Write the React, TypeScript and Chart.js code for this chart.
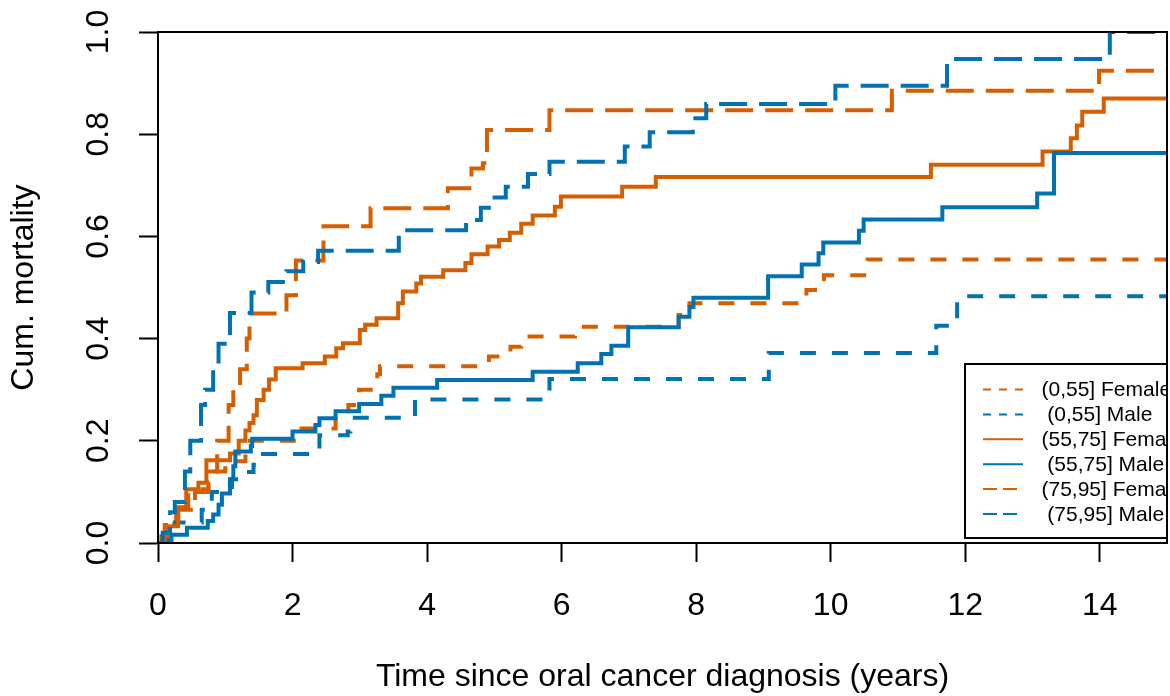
import React, { useEffect, useRef } from "react";
import { Chart, registerables } from "chart.js";

Chart.register(...registerables);

const FONT = "'Liberation Sans', Arial, Helvetica, sans-serif";

// ---- data (event times in years, cumulative mortality after the event) ----
const seriesLabels = [
  "(0,55] Female",
  " (0,55] Male",
  "(55,75] Female",
  " (55,75] Male",
  "(75,95] Female",
  " (75,95] Male",
];

const f055Times = [0.07, 0.18, 0.27, 0.45, 0.75, 0.85, 1.0, 1.3, 2.08, 2.64, 2.83, 2.99, 3.26, 3.3, 4.92, 5.24, 5.4, 6.2, 7.74, 7.9, 9.64, 9.9, 10.55];
const f055Cum = [0.012, 0.035, 0.07, 0.105, 0.12, 0.14, 0.16, 0.2, 0.224, 0.245, 0.27, 0.3, 0.33, 0.346, 0.365, 0.384, 0.404, 0.423, 0.446, 0.469, 0.495, 0.524, 0.555];

const m055Times = [0.15, 0.25, 0.65, 0.8, 1.1, 1.32, 1.42, 1.52, 2.4, 2.82, 2.86, 3.82, 5.82, 9.08, 11.57, 11.88];
const m055Cum = [0.02, 0.04, 0.065, 0.1, 0.125, 0.139, 0.153, 0.174, 0.211, 0.218, 0.245, 0.281, 0.321, 0.372, 0.425, 0.483];

const f5575Times = [0.05, 0.15, 0.3, 0.42, 0.6, 0.72, 1.07, 1.2, 1.3, 1.36, 1.42, 1.47, 1.57, 1.65, 1.75, 2.15, 2.48, 2.65, 2.75, 3.0, 3.08, 3.25, 3.57, 3.64, 3.84, 3.91, 4.24, 4.57, 4.66, 4.9, 5.07, 5.23, 5.4, 5.57, 5.9, 5.99, 6.9, 7.4, 11.49, 13.15, 13.57, 13.66, 13.74, 14.06];
const f5575Cum = [0.013, 0.033, 0.07, 0.105, 0.118, 0.162, 0.175, 0.2, 0.22, 0.235, 0.25, 0.28, 0.3, 0.32, 0.342, 0.352, 0.365, 0.381, 0.391, 0.417, 0.427, 0.44, 0.469, 0.492, 0.508, 0.521, 0.534, 0.548, 0.565, 0.58, 0.593, 0.607, 0.625, 0.641, 0.658, 0.678, 0.697, 0.716, 0.74, 0.766, 0.792, 0.817, 0.844, 0.87];

const m5575Times = [0.2, 0.43, 0.74, 0.82, 0.9, 0.95, 1.07, 1.12, 1.15, 1.38, 1.4, 2.0, 2.34, 2.4, 2.64, 2.99, 3.32, 3.5, 4.15, 5.57, 6.24, 6.59, 6.74, 6.99, 7.74, 7.9, 7.96, 9.07, 9.57, 9.82, 9.89, 10.42, 10.49, 11.66, 13.07, 13.32];
const m5575Cum = [0.016, 0.03, 0.043, 0.056, 0.075, 0.097, 0.125, 0.15, 0.179, 0.19, 0.204, 0.218, 0.231, 0.244, 0.258, 0.272, 0.288, 0.304, 0.319, 0.335, 0.352, 0.37, 0.386, 0.422, 0.443, 0.462, 0.48, 0.522, 0.545, 0.567, 0.588, 0.611, 0.633, 0.657, 0.684, 0.763];

const f7595Times = [0.1, 0.3, 0.55, 0.75, 0.88, 1.05, 1.12, 1.22, 1.32, 1.36, 1.91, 2.05, 2.46, 3.16, 4.31, 4.66, 4.83, 4.89, 5.82, 10.91, 13.99];
const f7595Cum = [0.035, 0.065, 0.1, 0.14, 0.2, 0.27, 0.3, 0.34, 0.4, 0.449, 0.485, 0.553, 0.62, 0.655, 0.694, 0.733, 0.743, 0.808, 0.847, 0.885, 0.924];

const m7595Times = [0.07, 0.18, 0.25, 0.4, 0.48, 0.64, 0.7, 0.82, 0.9, 1.07, 1.39, 1.64, 1.91, 2.16, 2.38, 3.58, 4.58, 4.8, 4.96, 5.17, 5.5, 5.82, 6.94, 7.31, 7.95, 8.15, 10.07, 11.73, 14.15];
const m7595Cum = [0.02, 0.06, 0.08, 0.14, 0.2, 0.27, 0.3, 0.35, 0.39, 0.45, 0.49, 0.511, 0.532, 0.55, 0.572, 0.612, 0.632, 0.656, 0.676, 0.697, 0.722, 0.746, 0.776, 0.804, 0.831, 0.859, 0.895, 0.947, 1.0];

const xTickValues = [0, 2, 4, 6, 8, 10, 12, 14];
const yTickValues = [0, 0.2, 0.4, 0.6, 0.8, 1.0];
const X_MIN = 0;
const X_MAX = 15;

// ---- styles ----
const ORANGE = "#D55E00";
const BLUE = "#0072B2";
const colors = [ORANGE, BLUE, ORANGE, BLUE, ORANGE, BLUE];
const SHORT = [16, 16];
const LONG = [28, 12];
const dashes = [SHORT, SHORT, [], [], LONG, LONG];
const legendDashes = [[8, 8], [8, 8], [], [], [14, 6], [14, 6]];

function stepPoints(times: number[], cum: number[]) {
  const pts = [{ x: X_MIN, y: 0 }];
  times.forEach((t, i) => pts.push({ x: t, y: cum[i] }));
  pts.push({ x: X_MAX, y: cum[cum.length - 1] });
  return pts;
}

const framePlugin = {
  id: "rFrameLegend",
  afterDraw(chart: any) {
    const { ctx, chartArea: a } = chart;
    ctx.save();
    // legend (clipped at the plot's right edge, as in the original)
    ctx.beginPath();
    ctx.rect(0, 0, a.right + 1, chart.height);
    ctx.clip();
    const left = a.right - 202;
    const top = a.bottom - 179;
    const bottom = a.bottom - 5;
    ctx.fillStyle = "#fff";
    ctx.fillRect(left, top, 400, bottom - top);
    ctx.strokeStyle = "#000";
    ctx.lineWidth = 2;
    ctx.strokeRect(left, top, 400, bottom - top);
    ctx.font = `21px ${FONT}`;
    ctx.textBaseline = "middle";
    ctx.textAlign = "left";
    seriesLabels.forEach((lab, i) => {
      const y = top + 25.5 + i * 24.9;
      ctx.beginPath();
      ctx.setLineDash(legendDashes[i]);
      ctx.lineCap = "butt";
      ctx.strokeStyle = colors[i];
      ctx.lineWidth = 2;
      ctx.moveTo(left + 18, y);
      ctx.lineTo(left + 58, y);
      ctx.stroke();
      ctx.setLineDash([]);
      ctx.fillStyle = "#000";
      ctx.fillText(lab, left + 76.5, y + 1);
    });
    ctx.restore();
    // plot box
    ctx.save();
    ctx.strokeStyle = "#000";
    ctx.lineWidth = 2;
    ctx.setLineDash([]);
    ctx.strokeRect(a.left, a.top, a.right - a.left, a.bottom - a.top);
    ctx.restore();
  },
};

export default function App() {
  const ref = useRef<HTMLCanvasElement>(null);

  useEffect(() => {
    const canvas = ref.current;
    if (!canvas) return;
    const allTimes = [f055Times, m055Times, f5575Times, m5575Times, f7595Times, m7595Times];
    const allCum = [f055Cum, m055Cum, f5575Cum, m5575Cum, f7595Cum, m7595Cum];

    const chart = new Chart(canvas, {
      type: "line",
      data: {
        datasets: seriesLabels.map((lab, i) => ({
          label: lab.trim(),
          data: stepPoints(allTimes[i], allCum[i]),
          borderColor: colors[i],
          backgroundColor: colors[i],
          borderWidth: 4,
          borderDash: dashes[i],
          borderCapStyle: "butt",
          borderJoinStyle: "miter",
          pointRadius: 0,
          pointHoverRadius: 0,
          stepped: "before",
          tension: 0,
          fill: false,
          order: 5 - i,
          clip: 0,
        })),
      },
      options: {
        animation: false,
        responsive: false,
        maintainAspectRatio: false,
        devicePixelRatio: 1,
        events: [],
        layout: { padding: { left: 0, right: 3, top: 32, bottom: 0 } },
        plugins: {
          legend: { display: false },
          tooltip: { enabled: false },
          title: { display: false },
        },
        scales: {
          x: {
            type: "linear",
            min: X_MIN,
            max: X_MAX,
            afterBuildTicks: (s: any) => {
              s.ticks = xTickValues.map((v) => ({ value: v }));
            },
            afterFit: (s: any) => {
              s.height = 153;
              s.paddingLeft = 0;
              s.paddingRight = 0;
            },
            ticks: {
              font: { family: FONT, size: 32 },
              color: "#000",
              padding: 25,
              maxRotation: 0,
              minRotation: 0,
              autoSkip: false,
              callback: (v: any) => String(v),
            },
            grid: {
              display: true,
              drawOnChartArea: false,
              drawTicks: true,
              tickLength: 19,
              tickColor: "#000",
              tickWidth: 2,
            },
            border: { display: true, color: "#000", width: 2 },
            title: {
              display: true,
              text: "Time since oral cancer diagnosis (years)",
              font: { family: FONT, size: 32 },
              color: "#000",
              padding: { top: 0, bottom: 0 },
            },
          },
          y: {
            type: "linear",
            min: 0,
            max: 1,
            afterBuildTicks: (s: any) => {
              s.ticks = yTickValues.map((v) => ({ value: v }));
            },
            afterFit: (s: any) => {
              s.width = 158;
              s.paddingTop = 0;
              s.paddingBottom = 0;
            },
            ticks: {
              font: { family: FONT, size: 32 },
              color: "#000",
              padding: 18,
              minRotation: 90,
              maxRotation: 90,
              crossAlign: "center",
              autoSkip: false,
              callback: (v: any) => Number(v).toFixed(1),
            },
            grid: {
              display: true,
              drawOnChartArea: false,
              drawTicks: true,
              tickLength: 19,
              tickColor: "#000",
              tickWidth: 2,
            },
            border: { display: true, color: "#000", width: 2 },
            title: {
              display: true,
              text: "Cum. mortality",
              font: { family: FONT, size: 32 },
              color: "#000",
              padding: { top: 5, bottom: 0 },
            },
          },
        },
      },
      plugins: [framePlugin],
    } as any);

    return () => chart.destroy();
  }, []);

  return (
    <div style={{ position: "fixed", left: 0, top: 0, width: 1170, height: 696, background: "#fff" }}>
      <canvas ref={ref} width={1170} height={696} style={{ display: "block", width: 1170, height: 696 }} />
    </div>
  );
}
